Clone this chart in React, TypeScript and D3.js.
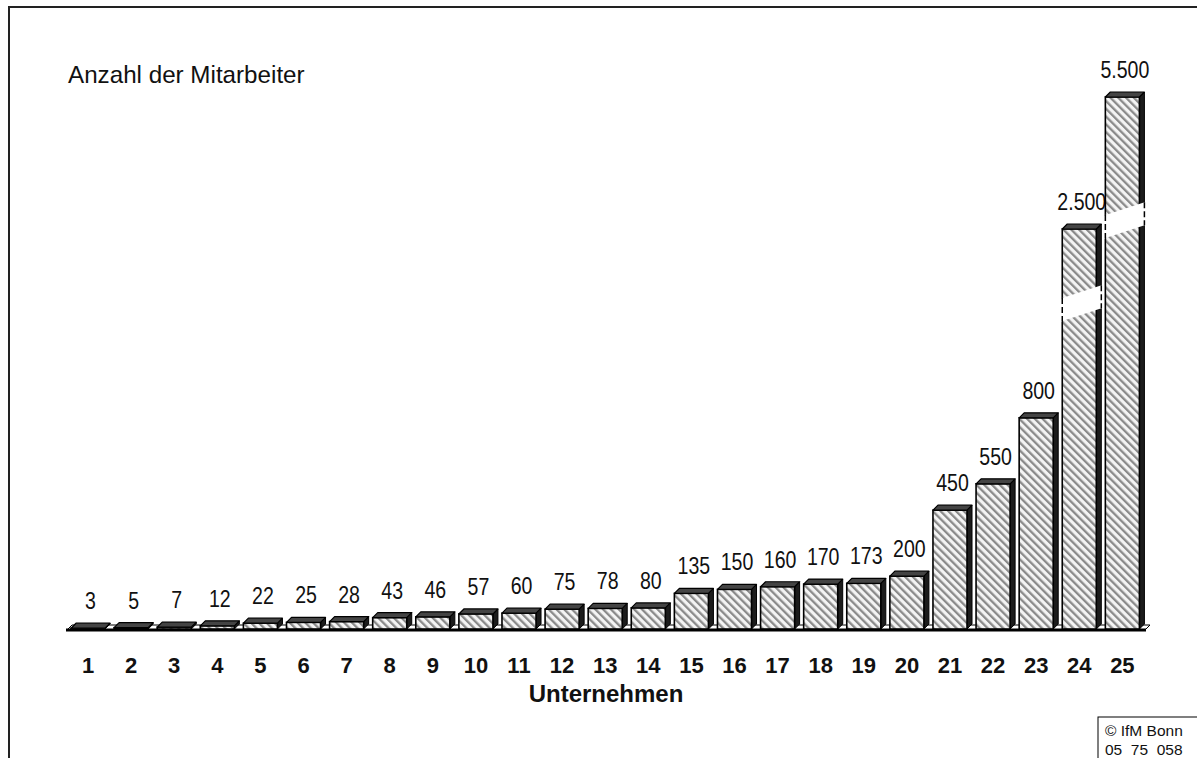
import React from "react";
import * as d3 from "d3";

const categories = ["1","2","3","4","5","6","7","8","9","10","11","12","13","14","15","16","17","18","19","20","21","22","23","24","25"];
const values = [3,5,7,12,22,25,28,43,46,57,60,75,78,80,135,150,160,170,173,200,450,550,800,2500,5500];
const brokenBars = ["24", "25"];
const titleText = "Anzahl der Mitarbeiter";
const axisTitle = "Unternehmen";
const copyrightLines = ["© IfM Bonn", "05  75  058"];

const W = 1197;
const H = 758;
const BASE = 629;
const DEPTH = 5;
const FONT = "'Liberation Sans', Arial, Helvetica, sans-serif";

const de = d3.formatLocale({ decimal: ",", thousands: ".", grouping: [3], currency: ["", "€"] });
const fmt = de.format(",d");

export default function App() {
  const x = d3.scaleBand<string>().domain(categories).range([71, 1139.4]).paddingInner(0.21).paddingOuter(0);
  // broken value axis: linear up to 1000, compressed above
  const y = d3.scaleLinear().domain([0, 1000, 2500, 5500]).range([BASE, BASE - 264, 229, 97]);
  const bw = x.bandwidth();
  const breakY: Record<string, number> = { "24": 299, "25": 216 };

  return (
    <svg width={W} height={H} style={{ position: "absolute", left: 0, top: 0, background: "#fff" }} fontFamily={FONT}>
      <defs>
        <pattern id="hatch" width="5.5" height="5.5" patternUnits="userSpaceOnUse" patternTransform="rotate(-45)">
          <rect width="5.5" height="5.5" fill="#f4f4f4" />
          <rect x="0" y="0" width="2.3" height="5.5" fill="#8a8a8a" />
        </pattern>
      </defs>
      {/* outer frame */}
      <path d={`M9,${H + 5} V7 H${W + 5}`} fill="none" stroke="#222" strokeWidth={2} />
      <text x={68} y={83} fontSize={24.2} fill="#111">{titleText}</text>

      {/* floor */}
      <polygon points={`67,630 72,625 1150,625 1145,630`} fill="#fff" stroke="#000" strokeWidth={1} />
      <line x1={66} x2={1146} y1={630} y2={630} stroke="#000" strokeWidth={3} />

      {categories.map((c, i) => {
        const v = values[i];
        const x0 = x(c) as number;
        const yt = y(v);
        const d = DEPTH;
        const side = `${x0 + bw},${yt} ${x0 + bw + d},${yt - d} ${x0 + bw + d},${BASE - d} ${x0 + bw},${BASE}`;
        const top = `${x0},${yt} ${x0 + d},${yt - d} ${x0 + bw + d},${yt - d} ${x0 + bw},${yt}`;
        const isBroken = brokenBars.includes(c);
        let band = null;
        if (isBroken) {
          const by = breakY[c];
          const rise = 15;
          const th = 23;
          const lx = x0 - 3;
          const rx = x0 + bw + d + 4;
          band = (
            <g>
              <polygon points={`${lx},${by} ${rx},${by - rise} ${rx},${by - rise + th} ${lx},${by + th}`} fill="#fff" />
              {[x0, x0 + bw + d].map((ex, k) => {
                const t = (ex - lx) / (rx - lx);
                const y1 = by - rise * t;
                return <line key={k} x1={ex} x2={ex} y1={y1} y2={y1 + th} stroke="#000" strokeWidth={1.5} strokeDasharray="6,3" />;
              })}
            </g>
          );
        }
        return (
          <g key={c}>
            <polygon points={side} fill="#1c1c1c" stroke="#000" strokeWidth={1} strokeLinejoin="round" />
            <rect x={x0} y={yt} width={bw} height={BASE - yt} fill="url(#hatch)" stroke="#000" strokeWidth={1.6} />
            <polygon points={top} fill="#444" stroke="#000" strokeWidth={1.2} strokeLinejoin="round" />
            {band}
            <text transform={`translate(${x0 + bw / 2 + 2.5},${yt - 19}) scale(0.85,1)`} textAnchor="middle" fontSize={23} fill="#111">{fmt(v)}</text>
            <text x={x0 + bw / 2} y={673} textAnchor="middle" fontSize={22} fontWeight="bold" fill="#111">{c}</text>
          </g>
        );
      })}

      <text x={606} y={702} textAnchor="middle" fontSize={24} fontWeight="bold" fill="#111">{axisTitle}</text>

      <rect x={1098} y={717} width={120} height={60} fill="#fff" stroke="#000" strokeWidth={1} />
      <text x={1105} y={736} fontSize={15.5} fill="#111">{copyrightLines[0]}</text>
      <text x={1105} y={755} fontSize={15.5} fill="#111" style={{ whiteSpace: "pre" }}>{copyrightLines[1]}</text>
    </svg>
  );
}
